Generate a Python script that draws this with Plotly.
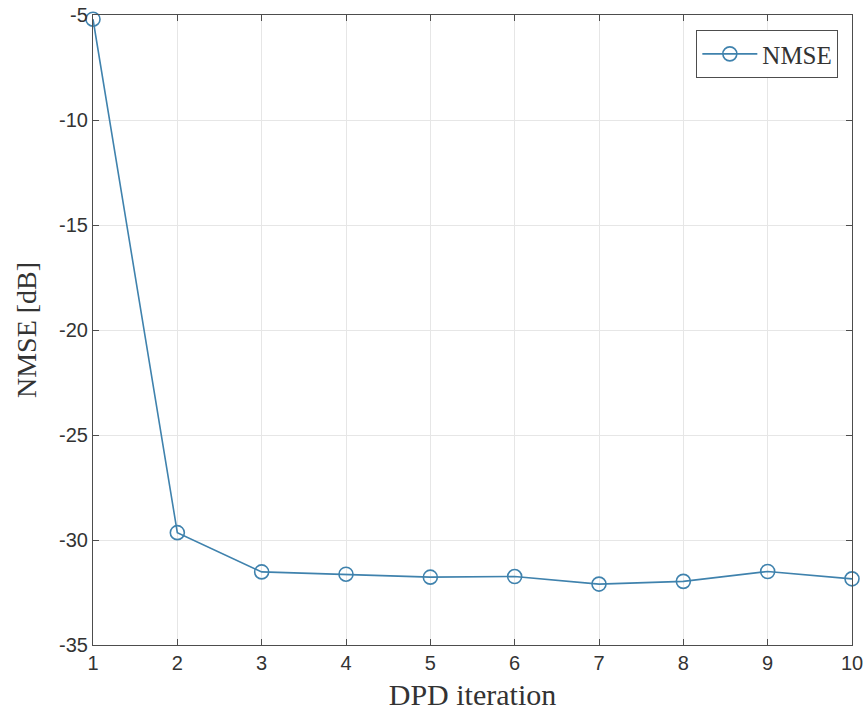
import plotly.graph_objects as go

iterations = [1, 2, 3, 4, 5, 6, 7, 8, 9, 10]
nmse_db = [-5.2, -29.65, -31.52, -31.63, -31.77, -31.74, -32.1, -31.97, -31.5, -31.85]
x_ticks = [1, 2, 3, 4, 5, 6, 7, 8, 9, 10]
y_ticks = [-35, -30, -25, -20, -15, -10, -5]
y_tick_labels = ["-35", "-30", "-25", "-20", "-15", "-10", "-5"]

line_color = "#3f82ad"

fig = go.Figure()
fig.add_trace(go.Scatter(
    x=iterations, y=nmse_db, mode="lines+markers", name="NMSE",
    line=dict(color=line_color, width=1.6),
    marker=dict(symbol="circle-open", size=14, color=line_color, line=dict(width=1.6)),
    cliponaxis=False,
))

axis_common = dict(
    showgrid=True, gridcolor="#e6e6e6", gridwidth=1,
    showline=True, linecolor="#4d4d4d", linewidth=1.2, mirror="ticks",
    ticks="inside", ticklen=6, tickcolor="#4d4d4d",
    zeroline=False, automargin=False, ticklabeloverflow="allow",
    tickfont=dict(family="Liberation Sans, Arial", size=20, color="#333333"),
)

fig.update_layout(
    width=867, height=718,
    margin=dict(l=93, r=15, t=15, b=73),
    paper_bgcolor="white", plot_bgcolor="white",
    xaxis=dict(range=[1, 10], tickvals=x_ticks, **axis_common,
               title=dict(text="DPD iteration", standoff=10,
                          font=dict(family="Liberation Serif, Times New Roman", size=30, color="#333333"))),
    yaxis=dict(range=[-35, -5], tickvals=y_ticks, ticktext=y_tick_labels, **axis_common,
               title=dict(text="NMSE [dB]", standoff=14,
                          font=dict(family="Liberation Serif, Times New Roman", size=28, color="#333333"))),
    legend=dict(x=0.982, y=0.976, xanchor="right", yanchor="top",
                itemwidth=55, tracegroupgap=0,
                bgcolor="white", bordercolor="#4d4d4d", borderwidth=1,
                font=dict(family="Liberation Serif, Times New Roman", size=25, color="#333333")),
    showlegend=True,
)

fig.write_html("out.html", config={"displayModeBar": False},
               post_script="document.body.style.margin='0';")
